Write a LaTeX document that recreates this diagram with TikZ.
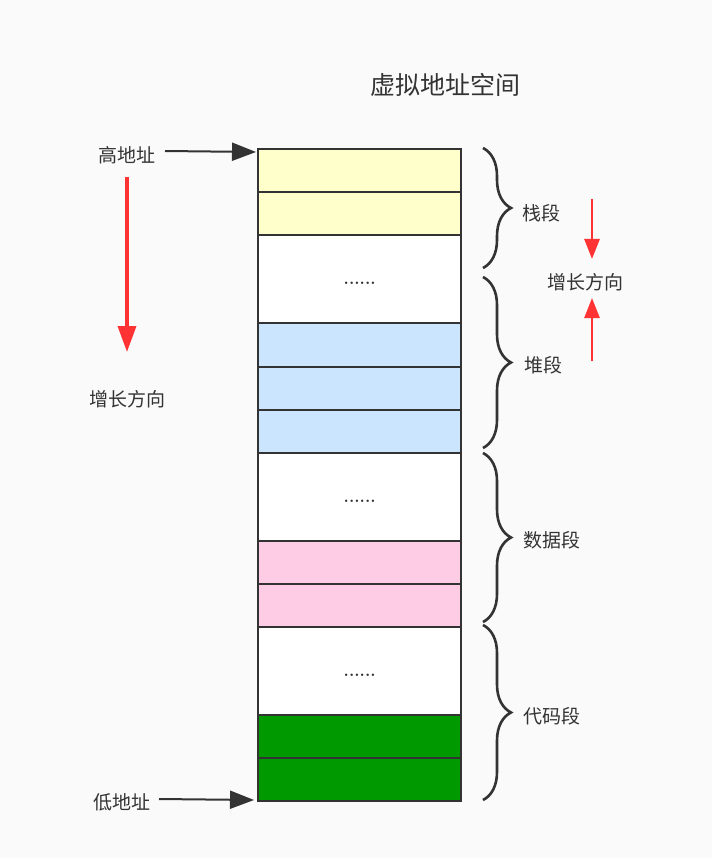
\documentclass[tikz,border=0pt]{standalone}
\usepackage{fontspec}
\newfontfamily\cjk{Noto Sans CJK SC}
\usetikzlibrary{arrows.meta,decorations.pathreplacing}
\definecolor{bg}{HTML}{FAFAFA}
\definecolor{edge}{HTML}{333333}
\definecolor{cyel}{HTML}{FFFFCC}
\definecolor{cblue}{HTML}{CCE5FF}
\definecolor{cpink}{HTML}{FFCCE6}
\definecolor{cgreen}{HTML}{009900}
\definecolor{cred}{HTML}{FF3333}
\definecolor{txt}{HTML}{333333}
\begin{document}
\begin{tikzpicture}[x=1pt,y=-1pt,
  cell/.style={draw=edge,line width=2.4pt,minimum width=203pt,inner sep=0pt,anchor=north west},
  dots/.style={font=\bfseries\fontsize{17}{19}\selectfont,text=txt,yshift=-4pt},
  lbl/.style={font=\cjk\fontsize{19}{22}\selectfont,text=txt,inner sep=0pt},
  brc/.style={draw=edge,line width=2.6pt,decorate,decoration={brace,amplitude=28pt}},
  blk/.style={draw=edge,line width=2pt,-{Triangle[length=24pt,width=18pt]}},
  redarr/.style={draw=cred,line width=3.5pt,-{Triangle[length=26pt,width=18pt]}}]
\fill[bg] (0,0) rectangle (712,858);
\useasboundingbox (0,0) rectangle (712,858);
\node[lbl,font=\cjk\fontsize{25}{28}\selectfont] (title) at (445,85) {虚拟地址空间};
% cells
\node[cell,fill=cyel,minimum height=43pt] (c1) at (257,148) {};
\node[cell,fill=cyel,minimum height=43pt] (c2) at (257,191) {};
\node[cell,fill=white,minimum height=88pt] (c3) at (257,234) {};
\node[dots] at (c3) {......};
\node[cell,fill=cblue,minimum height=44pt] (c4) at (257,322) {};
\node[cell,fill=cblue,minimum height=43pt] (c5) at (257,366) {};
\node[cell,fill=cblue,minimum height=43pt] (c6) at (257,409) {};
\node[cell,fill=white,minimum height=88pt] (c7) at (257,452) {};
\node[dots] at (c7) {......};
\node[cell,fill=cpink,minimum height=43pt] (c8) at (257,540) {};
\node[cell,fill=cpink,minimum height=43pt] (c9) at (257,583) {};
\node[cell,fill=white,minimum height=88pt] (c10) at (257,626) {};
\node[dots] at (c10) {......};
\node[cell,fill=cgreen,minimum height=43pt] (c11) at (257,714) {};
\node[cell,fill=cgreen,minimum height=43pt] (c12) at (257,757) {};
% braces
\coordinate (b1a) at (483,148); \coordinate (b1b) at (483,268);
\coordinate (b2a) at (483,277); \coordinate (b2b) at (483,448);
\coordinate (b3a) at (483,453); \coordinate (b3b) at (483,622);
\coordinate (b4a) at (483,625); \coordinate (b4b) at (483,800);
\draw[brc] (b1a) -- (b1b);
\draw[brc] (b2a) -- (b2b);
\draw[brc] (b3a) -- (b3b);
\draw[brc] (b4a) -- (b4b);
\node[lbl] (s1) at (541,213) {栈段};
\node[lbl] (s2) at (543,365) {堆段};
\node[lbl] (s3) at (552,540) {数据段};
\node[lbl] (s4) at (552,716) {代码段};
% growth labels
\node[lbl] (gr) at (585,282) {增长方向};
\node[lbl] (gl) at (127,399) {增长方向};
\coordinate (r1s) at (592,199); \coordinate (r1e) at (592,259);
\coordinate (r2s) at (592,361); \coordinate (r2e) at (592,298);
\draw[redarr,-{Triangle[length=20pt,width=15pt]},line width=2.8pt] (r1s) -- (r1e);
\draw[redarr,-{Triangle[length=20pt,width=15pt]},line width=2.8pt] (r2s) -- (r2e);
\coordinate (l1s) at (127,177); \coordinate (l1e) at (127,352);
\draw[redarr] (l1s) -- (l1e);
% address labels
\node[lbl] (hi) at (127,155) {高地址};
\node[lbl] (lo) at (122,802) {低地址};
\coordinate (hs) at (165,151); \coordinate (he) at (256,152);
\coordinate (ls) at (159,799); \coordinate (le) at (254,800);
\draw[blk] (hs) -- (he);
\draw[blk] (ls) -- (le);
\end{tikzpicture}
\end{document}
